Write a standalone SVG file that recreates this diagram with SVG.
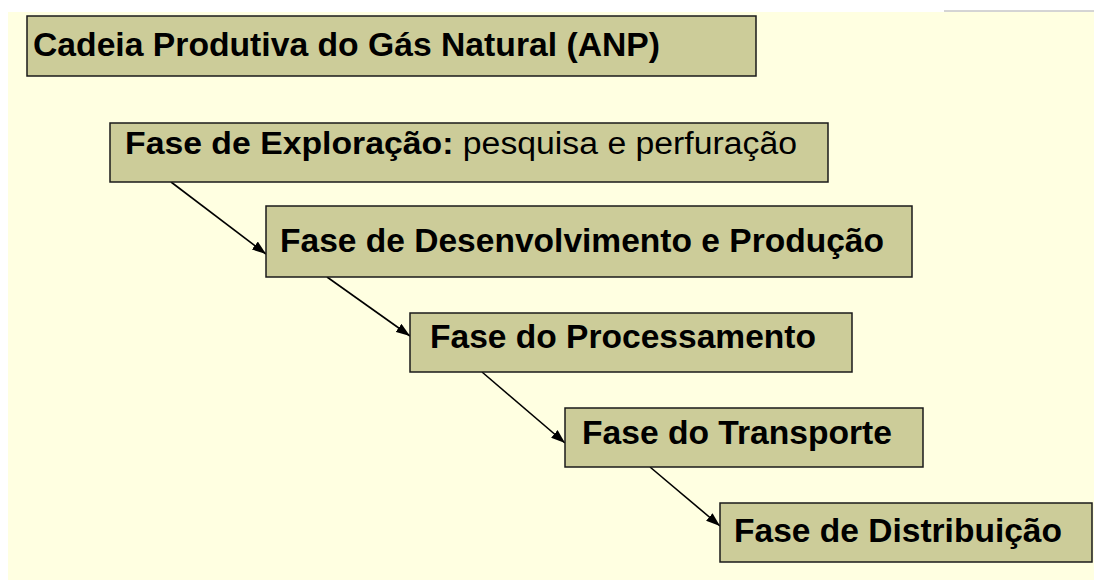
<svg xmlns="http://www.w3.org/2000/svg" width="1094" height="580" viewBox="0 0 1094 580">
<style>
.box{fill:#CCCC99;stroke:#1a1a1a;stroke-width:1.5}
.t{font-family:"Liberation Sans",Arial,sans-serif;font-weight:bold;fill:#000}
.r{font-weight:normal}
.c{stroke:#000;stroke-width:1.6;fill:none;marker-end:url(#ah)}
</style>
<defs>
<marker id="ah" viewBox="0 0 14 10" refX="14" refY="5" markerWidth="14" markerHeight="10" markerUnits="userSpaceOnUse" orient="auto">
<path d="M0,0 L14,5 L0,10 z" fill="#000"/>
</marker>
</defs>
<rect x="0" y="0" width="1094" height="580" fill="#FFFFFF"/>
<rect x="8" y="12" width="1086" height="568" fill="#FFFFE1"/>
<line x1="944" y1="11" x2="1094" y2="11" stroke="#AAAAAA" stroke-width="1"/>
<g id="connectors">
<line class="c" x1="171" y1="182" x2="266" y2="254"/>
<line class="c" x1="327" y1="277" x2="410" y2="336"/>
<line class="c" x1="482" y1="372" x2="565" y2="443"/>
<line class="c" x1="650" y1="467" x2="720" y2="526"/>
</g>
<g id="title">
<rect class="box" x="27" y="16" width="729" height="60"/>
<text class="t" x="33" y="56" font-size="33" textLength="627" lengthAdjust="spacingAndGlyphs">Cadeia Produtiva do Gás Natural (ANP)</text>
</g>
<g id="exploracao">
<rect class="box" x="110" y="123" width="718" height="59"/>
<text class="t" x="125" y="154" font-size="31" textLength="672" lengthAdjust="spacingAndGlyphs">Fase de Exploração:<tspan class="r"> pesquisa e perfuração</tspan></text>
</g>
<g id="desenvolvimento">
<rect class="box" x="266" y="206" width="646" height="71"/>
<text class="t" x="280" y="252" font-size="33" textLength="604" lengthAdjust="spacingAndGlyphs">Fase de Desenvolvimento e Produção</text>
</g>
<g id="processamento">
<rect class="box" x="410" y="313" width="442" height="59"/>
<text class="t" x="430" y="348" font-size="33" textLength="386" lengthAdjust="spacingAndGlyphs">Fase do Processamento</text>
</g>
<g id="transporte">
<rect class="box" x="565" y="408" width="358" height="59"/>
<text class="t" x="582" y="444" font-size="33" textLength="310" lengthAdjust="spacingAndGlyphs">Fase do Transporte</text>
</g>
<g id="distribuicao">
<rect class="box" x="720" y="503" width="372" height="59"/>
<text class="t" x="734" y="542" font-size="33" textLength="328" lengthAdjust="spacingAndGlyphs">Fase de Distribuição</text>
</g>
</svg>
